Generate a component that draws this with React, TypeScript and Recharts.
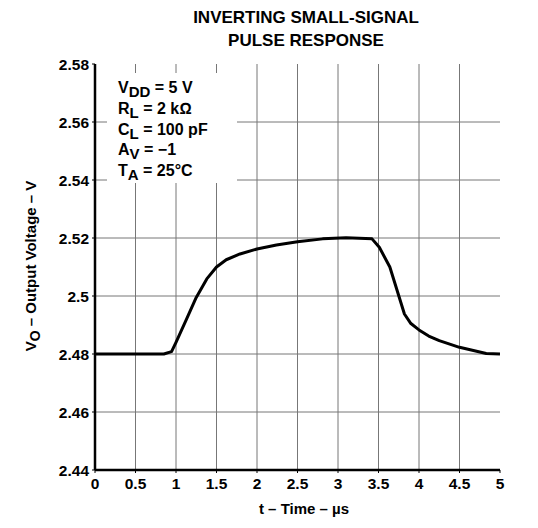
import React from "react"
import { LineChart, Line, XAxis, YAxis, ReferenceLine } from "recharts"

// t in microseconds, Vo in volts
const timeUs = [0, 0.5, 0.85, 0.945, 1.0, 1.13, 1.25, 1.38, 1.5, 1.62, 1.79, 2.0, 2.24, 2.5, 2.81, 3.1, 3.42, 3.51, 3.64, 3.82, 3.9, 4.0, 4.12, 4.25, 4.5, 4.83, 5.0]
const vout = [2.48, 2.48, 2.48, 2.4808, 2.484, 2.492, 2.4995, 2.5059, 2.51, 2.5125, 2.5145, 2.5162, 2.5176, 2.5187, 2.5197, 2.5201, 2.5197, 2.5168, 2.51, 2.4938, 2.4905, 2.4883, 2.4862, 2.4846, 2.4823, 2.4802, 2.48]

const xTicks = [0, 0.5, 1, 1.5, 2, 2.5, 3, 3.5, 4, 4.5, 5]
const yTicks = [2.44, 2.46, 2.48, 2.5, 2.52, 2.54, 2.56, 2.58]

const conditions = [
  { main: "V", sub: "DD", rest: " = 5 V" },
  { main: "R", sub: "L", rest: " = 2 k\u2126" },
  { main: "C", sub: "L", rest: " = 100 pF" },
  { main: "A", sub: "V", rest: " = \u22121" },
  { main: "T", sub: "A", rest: " = 25\u00b0C" },
]

const data = timeUs.map((t, i) => ({ t, v: vout[i] }))

const font = "Arial, 'Liberation Sans', sans-serif"
const tickStyle = { fill: "#000", fontSize: 15.5, fontWeight: 700, fontFamily: font }
const axisLine = { stroke: "#000", strokeWidth: 2.5 }

export default function App() {
  return (
    <div style={{ position: "absolute", left: 0, top: 0, width: 538, height: 528, background: "#fff", fontFamily: font }}>
      <LineChart width={538} height={528} data={data} margin={{ top: 64, right: 38, left: 0, bottom: 0 }}>
        <XAxis
          dataKey="t"
          type="number"
          domain={[0, 5]}
          ticks={xTicks}
          height={58}
          tick={tickStyle}
          tickSize={3}
          tickMargin={5}
          axisLine={axisLine}
          tickLine={{ stroke: "#000" }}
          interval={0}
        />
        <XAxis xAxisId="top" orientation="top" dataKey="t" type="number" domain={[0, 5]} height={0} tick={false} tickLine={false} axisLine={axisLine} />
        <YAxis
          type="number"
          domain={[2.44, 2.58]}
          ticks={yTicks}
          width={95}
          tick={tickStyle}
          tickSize={3}
          tickMargin={3}
          tickFormatter={(v: number) => String(Number(v.toFixed(2)))}
          axisLine={axisLine}
          tickLine={{ stroke: "#000" }}
          allowDataOverflow
          interval={0}
        />
        <YAxis yAxisId="right" orientation="right" type="number" domain={[2.44, 2.58]} width={0} tick={false} tickLine={false} axisLine={axisLine} />
        {xTicks.slice(1, -1).map((t) => (
          <ReferenceLine key={"x" + t} x={t} stroke="#777" strokeWidth={1} />
        ))}
        {yTicks.slice(1, -1).map((v) => (
          <ReferenceLine key={"y" + v} y={v} stroke="#777" strokeWidth={1} />
        ))}
        <Line
          dataKey="v"
          type="linear"
          stroke="#000"
          strokeWidth={3}
          strokeLinejoin="round"
          dot={false}
          isAnimationActive={false}
        />
      </LineChart>

      {/* title */}
      <div style={{ position: "absolute", left: 156, top: 6, width: 300, textAlign: "center", fontSize: 17, fontWeight: 700, lineHeight: "23px" }}>
        INVERTING SMALL-SIGNAL<br />PULSE RESPONSE
      </div>

      {/* test conditions box */}
      <div style={{ position: "absolute", left: 107, top: 73, width: 130, height: 110, background: "#fff" }}>
        {conditions.map((c, i) => (
          <div key={i} style={{ position: "absolute", left: 11, top: 6 + i * 20.8, fontSize: 16, fontWeight: 700, whiteSpace: "nowrap", lineHeight: "18px" }}>
            {c.main}
            <span style={{ fontSize: 15, position: "relative", top: 4 }}>{c.sub}</span>
            {c.rest}
          </div>
        ))}
      </div>

      {/* y label */}
      <div style={{ position: "absolute", left: 30, top: 266, transform: "translate(-50%, -50%) rotate(-90deg)", fontSize: 15, fontWeight: 700, whiteSpace: "nowrap" }}>
        V<span style={{ fontSize: 14, position: "relative", top: 4 }}>O</span> – Output Voltage – V
      </div>

      {/* x label */}
      <div style={{ position: "absolute", left: 204, top: 500, width: 200, textAlign: "center", fontSize: 15, fontWeight: 700 }}>
        t – Time – µs
      </div>
    </div>
  )
}
